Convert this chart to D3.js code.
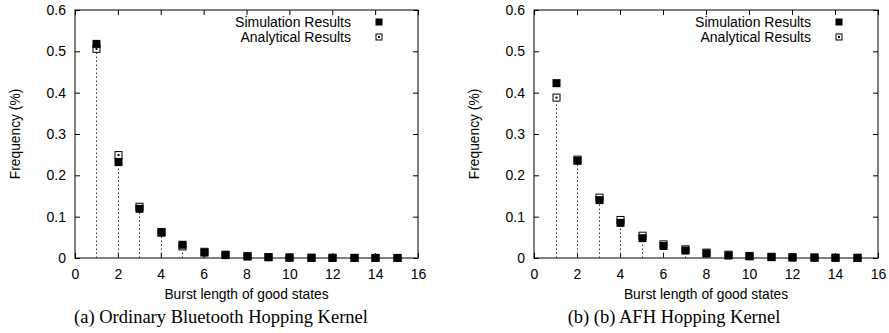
<!DOCTYPE html>
<html>
<head>
<meta charset="utf-8">
<script src="https://cdn.jsdelivr.net/npm/d3@7"></script>
<style>
  html, body { margin: 0; padding: 0; background: #fff; }
  svg { display: block; }
  .tick-label { font-family: "Liberation Sans", Arial, sans-serif; font-size: 14px; fill: #000; }
  .axis-label { font-family: "Liberation Sans", Arial, sans-serif; font-size: 13.8px; fill: #000; }
  .caption { font-family: "Liberation Serif", "Times New Roman", serif; font-size: 18.5px; fill: #000; }
</style>
</head>
<body>
<svg id="chart" width="889" height="333"></svg>
<script>
// burst length (x) values
const burstLengths = [1, 2, 3, 4, 5, 6, 7, 8, 9, 10, 11, 12, 13, 14, 15];

// (a) ordinary bluetooth hopping kernel
const simOrdinary = [0.518, 0.232, 0.119, 0.061, 0.032, 0.013, 0.007, 0.004, 0.002, 0.001, 0.0006, 0.0004, 0.0003, 0.0002, 0.0001];
const anaOrdinary = [0.506, 0.249, 0.124, 0.063, 0.028, 0.015, 0.008, 0.004, 0.002, 0.001, 0.0005, 0.0003, 0.0002, 0.0001, 0.0001];

// (b) AFH hopping kernel
const simAfh = [0.423, 0.235, 0.140, 0.085, 0.048, 0.029, 0.018, 0.011, 0.006, 0.004, 0.002, 0.001, 0.001, 0.0005, 0.0003];
const anaAfh = [0.388, 0.238, 0.146, 0.092, 0.054, 0.033, 0.021, 0.013, 0.008, 0.005, 0.003, 0.002, 0.001, 0.0006, 0.0004];

const xTicks = [0, 2, 4, 6, 8, 10, 12, 14, 16];
const yTicks = [0, 0.1, 0.2, 0.3, 0.4, 0.5, 0.6];

const legendLabels = ['Simulation Results', 'Analytical Results'];
const xLabel = 'Burst length of good states';
const yLabel = 'Frequency (%)';

const panels = [
  {left: 75, right: 418, sim: simOrdinary, ana: anaOrdinary, caption: '(a) Ordinary Bluetooth Hopping Kernel', captionX: 221, yLabelX: 15},
  {left: 534, right: 878, sim: simAfh, ana: anaAfh, caption: '(b) (b) AFH Hopping Kernel', captionX: 674, yLabelX: 474},
];

const plotTop = 10, plotBottom = 258;
const svg = d3.select('#chart');

panels.forEach(p => drawPanel(p));

function drawPanel(p) {
  const x = d3.scaleLinear().domain([0, 16]).range([p.left, p.right]);
  const y = d3.scaleLinear().domain([0, 0.6]).range([plotBottom, plotTop]);
  const g = svg.append('g');
  const tickLen = 5;

  // bottom axis (ticks inward) + mirrored top ticks
  const xAx = g.append('g').attr('transform', `translate(0,${plotBottom})`)
    .call(d3.axisBottom(x).tickValues(xTicks).tickSizeInner(-tickLen).tickSizeOuter(0).tickPadding(11));
  const xTop = g.append('g').attr('transform', `translate(0,${plotTop})`)
    .call(d3.axisTop(x).tickValues(xTicks).tickSizeInner(-tickLen).tickSizeOuter(0).tickFormat(''));
  const yAx = g.append('g').attr('transform', `translate(${p.left},0)`)
    .call(d3.axisLeft(y).tickValues(yTicks).tickSizeInner(-tickLen).tickSizeOuter(0).tickPadding(9).tickFormat(d3.format('~g')));
  const yRight = g.append('g').attr('transform', `translate(${p.right},0)`)
    .call(d3.axisRight(y).tickValues(yTicks).tickSizeInner(-tickLen).tickSizeOuter(0).tickFormat(''));

  [xAx, xTop, yAx, yRight].forEach(a => {
    a.select('.domain').remove();
    a.selectAll('line').attr('stroke', '#000');
    a.selectAll('text').attr('class', 'tick-label');
    a.attr('font-size', null).attr('font-family', null);
  });

  // frame
  g.append('rect')
    .attr('x', p.left).attr('y', plotTop)
    .attr('width', p.right - p.left).attr('height', plotBottom - plotTop)
    .attr('fill', 'none').attr('stroke', '#000').attr('stroke-width', 1);

  // axis labels
  g.append('text').attr('class', 'axis-label')
    .attr('x', (p.left + p.right) / 2).attr('y', 299)
    .attr('text-anchor', 'middle').text(xLabel);
  g.append('text').attr('class', 'axis-label')
    .attr('transform', `translate(${p.yLabelX},${(plotTop + plotBottom) / 2}) rotate(-90)`)
    .attr('text-anchor', 'middle').attr('dy', '0.35em').text(yLabel);

  // caption
  g.append('text').attr('class', 'caption')
    .attr('x', p.captionX).attr('y', 323)
    .attr('text-anchor', 'middle').text(p.caption);

  // impulses for analytical results (dotted)
  g.append('g').selectAll('line')
    .data(burstLengths)
    .join('line')
    .attr('x1', d => Math.round(x(d)) + 0.5).attr('x2', d => Math.round(x(d)) + 0.5)
    .attr('y1', y(0)).attr('y2', (d, i) => y(p.ana[i]))
    .attr('stroke', '#333').attr('stroke-width', 1)
    .attr('stroke-dasharray', '1.5,2.5');

  const s = 8;
  // analytical: open box with a centre dot
  const anaG = g.append('g').selectAll('g')
    .data(burstLengths)
    .join('g')
    .attr('transform', (d, i) => `translate(${Math.round(x(d)) + 0.5},${y(p.ana[i])})`);
  drawOpenBox(anaG, s);

  // simulation: filled box
  g.append('g').selectAll('rect')
    .data(burstLengths)
    .join('rect')
    .attr('x', d => Math.round(x(d)) + 0.5 - s / 2)
    .attr('y', (d, i) => y(p.sim[i]) - s / 2)
    .attr('width', s).attr('height', s)
    .attr('fill', '#000');

  // legend
  const legX = p.right - 39, textEnd = p.right - 67;
  const legY = [22, 37];
  g.append('text').attr('class', 'tick-label')
    .attr('x', textEnd).attr('y', legY[0]).attr('dy', '0.35em')
    .attr('text-anchor', 'end').text(legendLabels[0]);
  g.append('rect')
    .attr('x', legX - 3.5).attr('y', legY[0] - 3.5)
    .attr('width', 7).attr('height', 7).attr('fill', '#000');
  g.append('text').attr('class', 'tick-label')
    .attr('x', textEnd).attr('y', legY[1]).attr('dy', '0.35em')
    .attr('text-anchor', 'end').text(legendLabels[1]);
  drawOpenBox(g.append('g').attr('transform', `translate(${legX},${legY[1]})`), 7);
}

function drawOpenBox(sel, s) {
  sel.append('rect')
    .attr('x', -s / 2 + 0.5).attr('y', -s / 2 + 0.5)
    .attr('width', s - 1).attr('height', s - 1)
    .attr('fill', '#fff').attr('stroke', '#000').attr('stroke-width', 1);
  sel.append('rect')
    .attr('x', -1).attr('y', -1).attr('width', 2).attr('height', 2)
    .attr('fill', '#000');
}
</script>
</body>
</html>
